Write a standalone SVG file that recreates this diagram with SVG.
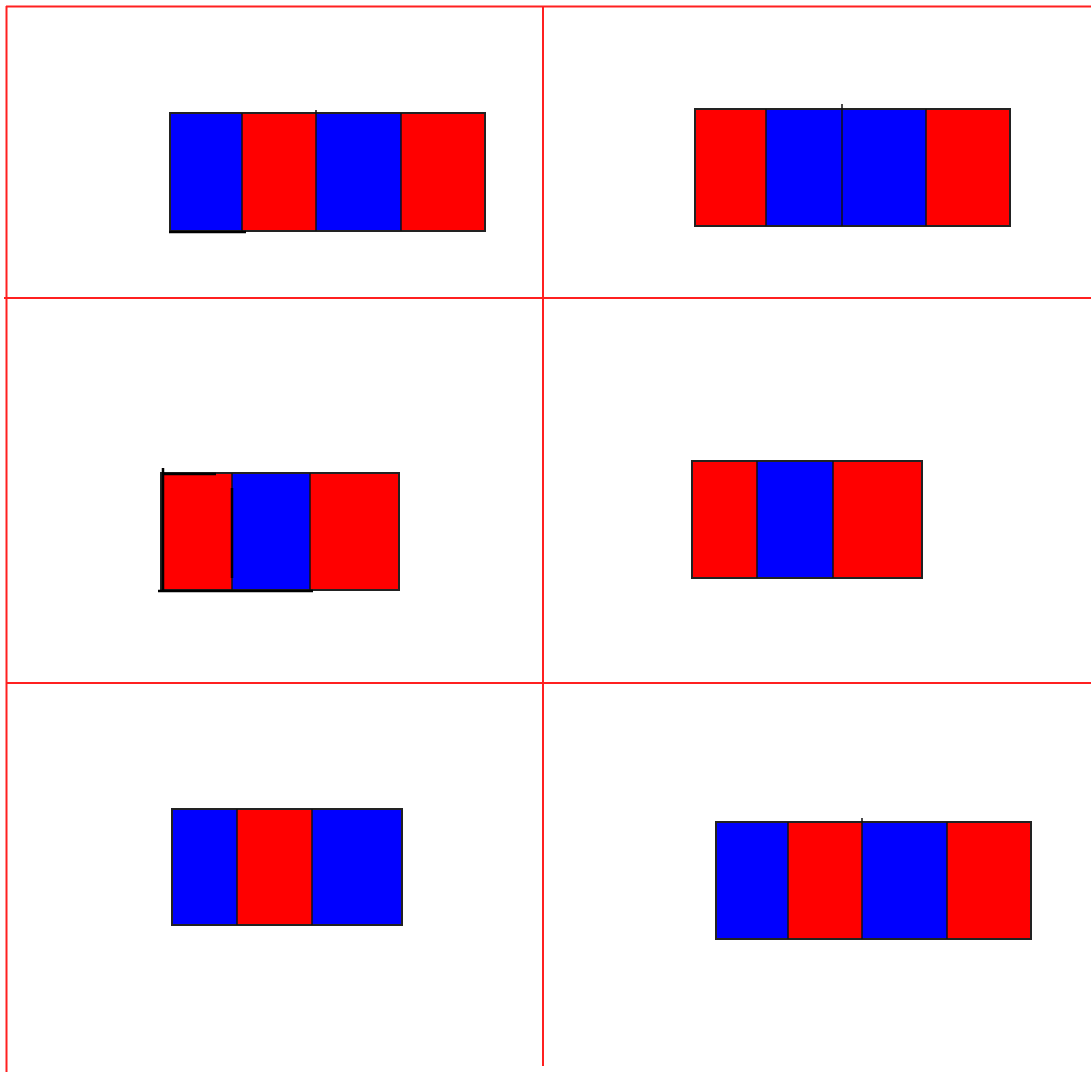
<svg xmlns="http://www.w3.org/2000/svg" width="1091" height="1072" viewBox="0 0 1091 1072">
<style>
.grid{stroke:#ff2020;stroke-width:2;fill:none}
.r{fill:#ff0000}
.b{fill:#0000ff}
.o{fill:none;stroke:#222;stroke-width:2}
.d{stroke:#111;stroke-width:1.5}
.k{stroke:#000;stroke-width:2.5}
</style>
<rect width="1091" height="1072" fill="#fff"/>
<g id="grid">
<line class="grid" x1="6" y1="6.5" x2="1091" y2="6.5"/>
<line class="grid" x1="6.5" y1="6" x2="6.5" y2="1072"/>
<line class="grid" x1="543" y1="6" x2="543" y2="1066"/>
<line class="grid" x1="4" y1="298" x2="1091" y2="298"/>
<line class="grid" x1="6" y1="683" x2="1091" y2="683"/>
</g>
<g id="bar1">
<rect class="b" x="170" y="113" width="72" height="118"/>
<rect class="r" x="242" y="113" width="74" height="118"/>
<rect class="b" x="316" y="113" width="85" height="118"/>
<rect class="r" x="401" y="113" width="84" height="118"/>
<rect class="o" x="170" y="113" width="315" height="118" stroke="#555"/>
<line class="d" x1="242" y1="113" x2="242" y2="231"/>
<line class="d" x1="316" y1="110" x2="316" y2="231"/>
<line class="d" x1="401" y1="113" x2="401" y2="231"/>
<line class="k" x1="169" y1="232" x2="246" y2="232"/>
</g>
<g id="bar2">
<rect class="r" x="695" y="109" width="71" height="117"/>
<rect class="b" x="766" y="109" width="76" height="117"/>
<rect class="b" x="842" y="109" width="84" height="117"/>
<rect class="r" x="926" y="109" width="84" height="117"/>
<rect class="o" x="695" y="109" width="315" height="117"/>
<line class="d" x1="766" y1="109" x2="766" y2="226"/>
<line class="d" x1="842" y1="104" x2="842" y2="226"/>
<line class="d" x1="926" y1="109" x2="926" y2="226"/>
</g>
<g id="bar3">
<rect class="r" x="161" y="473" width="71" height="117"/>
<rect class="b" x="232" y="473" width="78" height="117"/>
<rect class="r" x="310" y="473" width="89" height="117"/>
<rect class="o" x="161" y="473" width="238" height="117" stroke="#666"/>
<line class="d" x1="232" y1="473" x2="232" y2="590"/>
<line class="d" x1="310" y1="473" x2="310" y2="590"/>
<line class="k" x1="163" y1="468" x2="163" y2="590"/>
<line class="k" x1="163" y1="474" x2="216" y2="474"/>
<line class="k" x1="232" y1="488" x2="232" y2="578"/>
<line class="k" x1="158" y1="591" x2="313" y2="591"/>
</g>
<g id="bar4">
<rect class="r" x="692" y="461" width="65" height="117"/>
<rect class="b" x="757" y="461" width="76" height="117"/>
<rect class="r" x="833" y="461" width="89" height="117"/>
<rect class="o" x="692" y="461" width="230" height="117"/>
<line class="d" x1="757" y1="461" x2="757" y2="578"/>
<line class="d" x1="833" y1="461" x2="833" y2="578"/>
</g>
<g id="bar5">
<rect class="b" x="172" y="809" width="65" height="116"/>
<rect class="r" x="237" y="809" width="75" height="116"/>
<rect class="b" x="312" y="809" width="90" height="116"/>
<rect class="o" x="172" y="809" width="230" height="116"/>
<line class="d" x1="237" y1="809" x2="237" y2="925"/>
<line class="d" x1="312" y1="809" x2="312" y2="925"/>
</g>
<g id="bar6">
<rect class="b" x="716" y="822" width="72" height="117"/>
<rect class="r" x="788" y="822" width="74" height="117"/>
<rect class="b" x="862" y="822" width="85" height="117"/>
<rect class="r" x="947" y="822" width="84" height="117"/>
<rect class="o" x="716" y="822" width="315" height="117"/>
<line class="d" x1="788" y1="822" x2="788" y2="939"/>
<line class="d" x1="862" y1="818" x2="862" y2="939"/>
<line class="d" x1="947" y1="822" x2="947" y2="939"/>
</g>
</svg>
